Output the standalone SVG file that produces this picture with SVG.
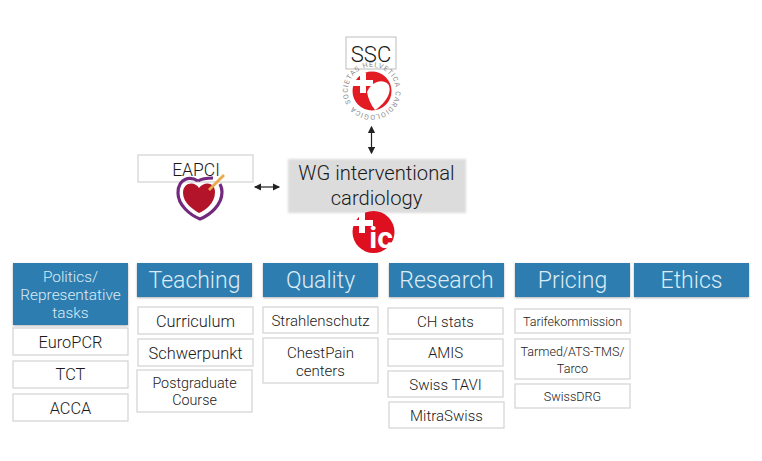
<svg xmlns="http://www.w3.org/2000/svg" width="762" height="461" viewBox="0 0 762 461">
<style>
text{font-family:Roboto,"Liberation Sans",Arial,sans-serif;font-weight:300;text-anchor:middle;fill:#1a1a1a}
.h{fill:#2f7db0;filter:url(#s)}
.ht{fill:#dcecf5;font-size:23px}
.hs{fill:#dcecf5;font-size:15.400px}
.b{fill:#fff;stroke:#d2d2d2;stroke-width:1.200}
.t{font-size:16.400px}
.p{font-size:14.300px}
.m{font-size:15px}
.n{font-size:12.600px}
.c{stroke:#222;stroke-width:1.200;fill:none;marker-start:url(#a);marker-end:url(#a)}
.ring{font-size:7px;font-weight:400;fill:#8a8a8a;text-anchor:start}
</style>
<defs>
<filter id="s" x="-5%" y="-10%" width="110%" height="125%"><feDropShadow dx="0" dy="1" stdDeviation="1" flood-color="#000" flood-opacity=".3"/></filter>
<filter id="g" x="-5%" y="-5%" width="110%" height="110%"><feGaussianBlur stdDeviation=".8"/></filter>
<marker id="a" markerWidth="7" markerHeight="7" refX="5" refY="3" orient="auto-start-reverse"><path d="M0 0L6 3L0 6z" fill="#222"/></marker>
<path id="arc" d="M351 103A24 24 0 1 1 392.500 103A24 24 0 0 1 351 103"/>
</defs>
<g id="connectors">
<path class="c" d="M371.500 127V153"/>
<path class="c" d="M255 187H279"/>
</g>
<g id="ssc">
<rect class="b" x="346" y="37" width="50" height="32" style="stroke:#c8c8c8"/>
<text x="371" y="62" style="font-size:22px">SSC</text>
<circle cx="372" cy="91" r="19.500" fill="#e31b23"/>
<path d="M367 92C371 82 382 78 388 84C393 91 386 103 375 110C371 105 368 98 367 92Z" fill="#fff"/>
<path d="M360 73h6v7h7v6h-7v7h-6v-7h-7v-6h7z" fill="#fff"/>
<text class="ring"><textPath href="#arc" textLength="146" lengthAdjust="spacing">SOCIETAS HELVETICA CARDIOLOGICA</textPath></text>
</g>
<g id="wg">
<rect x="288" y="159" width="178" height="54" fill="#dcdcdc" filter="url(#g)"/>
<text x="376.500" y="180" style="font-size:20.200px">WG interventional</text>
<text x="376.500" y="205" style="font-size:20.200px">cardiology</text>
</g>
<g id="ic">
<circle cx="373.500" cy="232" r="21" fill="#de1020"/>
<path d="M359 213h6v7h8v6h-8v7h-6v-7h-8v-6h8z" fill="#fff"/>
<text x="381" y="248" style="font-size:30px;font-weight:700;fill:#fff">ic</text>
</g>
<g id="eapci">
<rect class="b" x="138" y="155" width="115" height="27"/>
<text x="196" y="176" style="font-size:17.500px">EAPCI</text>
<path d="M198 181C190 176 178 178 178 193C178 205 190 215 200 219C210 215 222 205 222 192C222 188 221 186 220 184M198 181C203 178 208 178 213 178" fill="none" stroke="#742a7c" stroke-width="3.200"/>
<path d="M199 188C195 181 183 182 183 193C183 203 194 210 199 213C206 210 215 203 215 192C215 182 204 181 199 188Z" fill="#b4142a"/>
<path d="M209 190L224 175" stroke="#e8a94f" stroke-width="2.800" fill="none"/>
</g>
<g id="politics"><rect class="h" x="13" y="263" width="115" height="62"/><text x="70.500" y="282" class="hs">Politics/</text><text x="70.500" y="300" class="hs">Representative</text><text x="70.500" y="318" class="hs">tasks</text></g>
<g id="teaching"><rect class="h" x="137" y="263" width="115" height="34"/><text x="194.500" y="288" class="ht">Teaching</text></g>
<g id="quality"><rect class="h" x="263" y="263" width="115" height="34"/><text x="320.500" y="288" class="ht">Quality</text></g>
<g id="research"><rect class="h" x="389" y="263" width="115" height="34"/><text x="446.500" y="288" class="ht">Research</text></g>
<g id="pricing"><rect class="h" x="515" y="263" width="115" height="34"/><text x="572.500" y="288" class="ht">Pricing</text></g>
<g id="ethics"><rect class="h" x="634" y="263" width="115" height="34"/><text x="691.500" y="288" class="ht">Ethics</text></g>
<g id="europcr"><rect class="b" x="13" y="328" width="115" height="27"/><text x="70.500" y="348" class="t">EuroPCR</text></g>
<g id="tct"><rect class="b" x="13" y="361" width="115" height="27"/><text x="70.500" y="380" class="t">TCT</text></g>
<g id="acca"><rect class="b" x="13" y="394" width="115" height="27"/><text x="70.500" y="414" class="t">ACCA</text></g>
<g id="curriculum"><rect class="b" x="138" y="307" width="115" height="27"/><text x="195.500" y="327" class="t">Curriculum</text></g>
<g id="schwerpunkt"><rect class="b" x="138" y="339" width="115" height="27"/><text x="195.500" y="359" class="t">Schwerpunkt</text></g>
<g id="postgraduate"><rect class="b" x="137" y="370" width="115" height="42"/><text x="194.500" y="388" class="p">Postgraduate</text><text x="194.500" y="405" class="p">Course</text></g>
<g id="strahlenschutz"><rect class="b" x="263" y="307" width="115" height="26"/><text x="320.500" y="326" class="m">Strahlenschutz</text></g>
<g id="chestpain"><rect class="b" x="263" y="338" width="115" height="45"/><text x="320.500" y="358" class="m">ChestPain</text><text x="320.500" y="376" class="m">centers</text></g>
<g id="chstats"><rect class="b" x="388" y="308" width="115" height="26"/><text x="445.500" y="327" class="m">CH stats</text></g>
<g id="amis"><rect class="b" x="388" y="339" width="115" height="27"/><text x="445.500" y="358" class="m">AMIS</text></g>
<g id="swisstavi"><rect class="b" x="388" y="371" width="115" height="26"/><text x="445.500" y="390" class="m">Swiss TAVI</text></g>
<g id="mitraswiss"><rect class="b" x="389" y="402" width="115" height="26"/><text x="446.500" y="421" class="m">MitraSwiss</text></g>
<g id="tarife"><rect class="b" x="515" y="309" width="115" height="24"/><text x="572.500" y="326" class="n">Tarifekommission</text></g>
<g id="tarmed"><rect class="b" x="515" y="339" width="115" height="40"/><text x="572.500" y="356" class="n">Tarmed/ATS-TMS/</text><text x="572.500" y="373" class="n">Tarco</text></g>
<g id="swissdrg"><rect class="b" x="515" y="384" width="115" height="24"/><text x="572.500" y="401" class="n">SwissDRG</text></g>
</svg>
